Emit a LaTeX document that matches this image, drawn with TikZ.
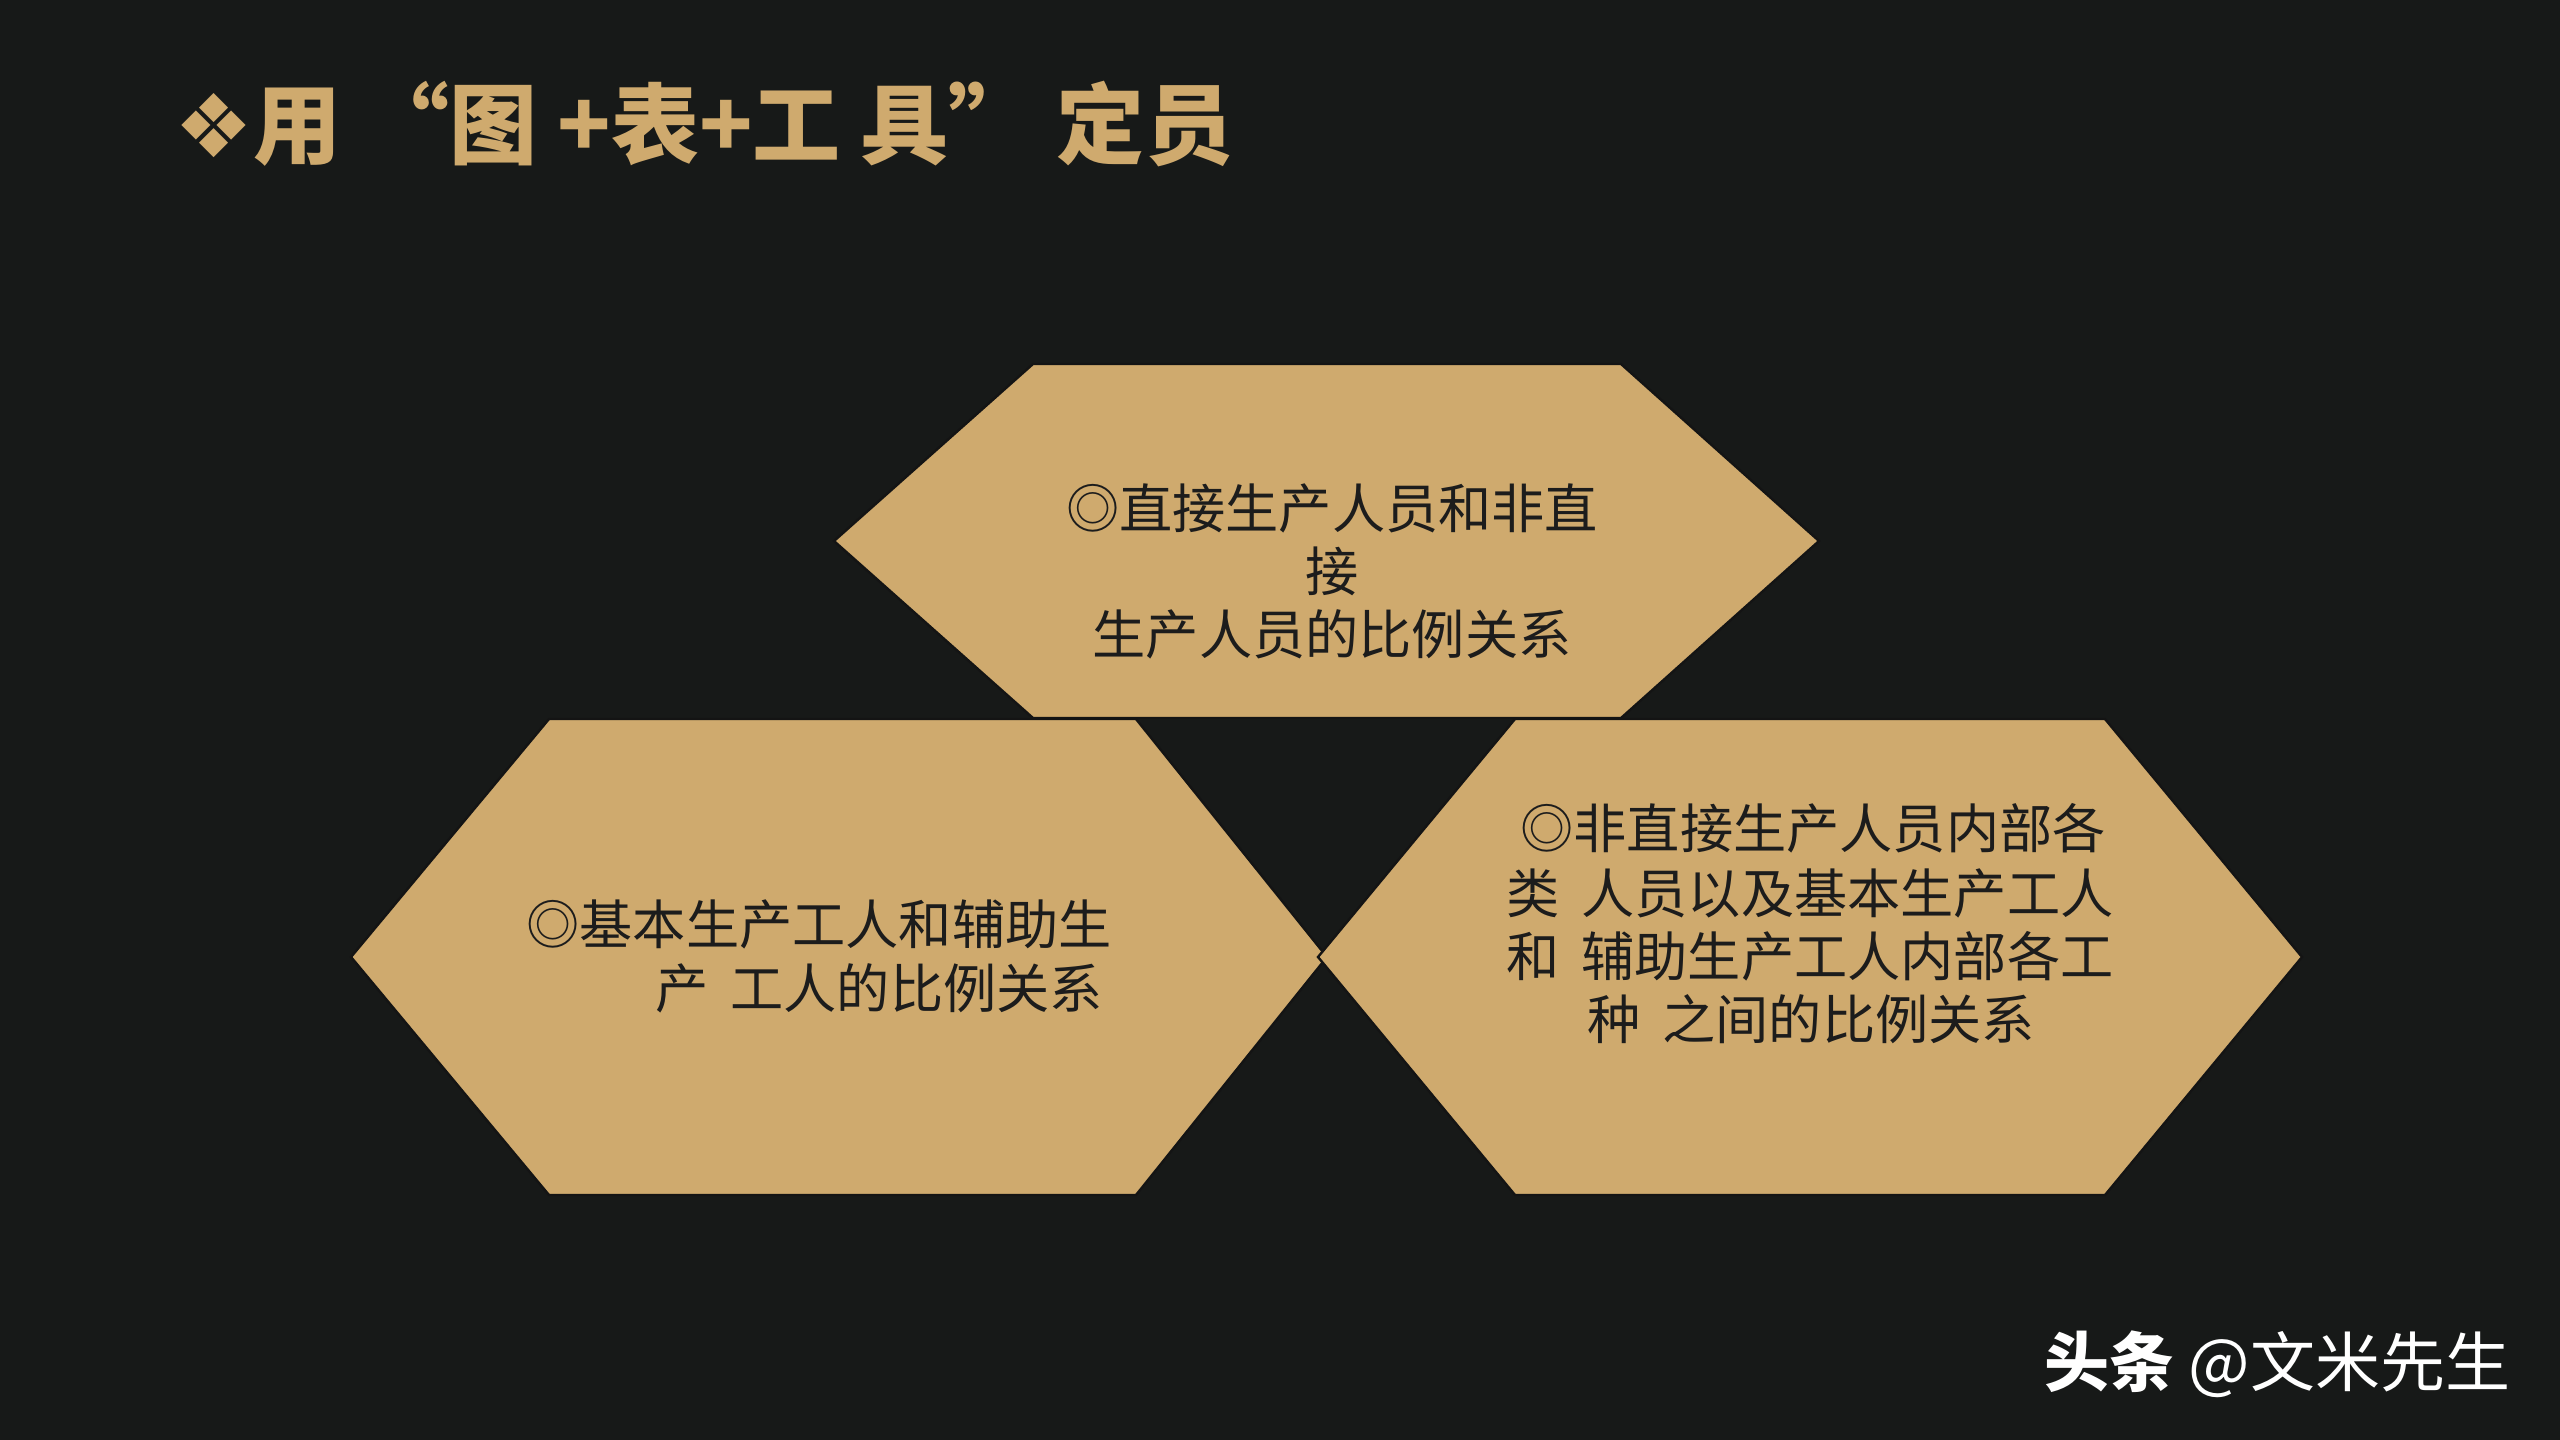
\documentclass[tikz,border=0pt]{standalone}
\usepackage{fontspec}
\newfontfamily\cjk{Noto Sans CJK SC}
\newfontfamily\sym{DejaVu Sans}
\definecolor{bg}{HTML}{171918}
\definecolor{gold}{HTML}{CFAA6E}
\definecolor{ink}{HTML}{1C1C1C}
\tikzset{
  hexa/.style={fill=gold, draw=black!92, line width=1.2pt, line join=miter},
  body/.style={font=\cjk\fontsize{26.6pt}{30pt}\selectfont, text=ink, inner sep=0pt},
}
\begin{document}
\begin{tikzpicture}[x=0.5pt,y=-0.5pt]
\fill[bg] (0,0) rectangle (2560,1440);
\useasboundingbox (0,0) rectangle (2560,1440);
% hexagons
\draw[hexa] (834,541) -- (1033,364) -- (1621,364) -- (1819,541) -- (1621,718) -- (1033,718) -- cycle;
\draw[hexa] (351,957) -- (549,719) -- (1136,719) -- (1327,957) -- (1136,1195) -- (549,1195) -- cycle;
\draw[hexa] (1318,957) -- (1515,719) -- (2105,719) -- (2302,957) -- (2105,1195) -- (1515,1195) -- cycle;
% title
\node[anchor=base west, inner sep=0pt, text=gold, font=\cjk\bfseries\fontsize{44pt}{50pt}\selectfont] (title) at (174,157) {{\sym\mdseries ❖}用 “图 +表+工 具” 定员};
% top text
\node[body, anchor=base] (t1) at (1332,528) {◎直接生产人员和非直};
\node[body, anchor=base] (t2) at (1332,591) {接};
\node[body, anchor=base] (t3) at (1332,654) {生产人员的比例关系};
% left text
\node[body, anchor=base west] (l1) at (526,944) {◎基本生产工人和辅助生};
\node[body, anchor=base west] (l2) at (655,1008) {产\hspace{11pt}工人的比例关系};
% right text
\node[body, anchor=base west] (r1) at (1520,848) {◎非直接生产人员内部各};
\node[body, anchor=base west] (r2) at (1506,913) {类\hspace{11pt}人员以及基本生产工人};
\node[body, anchor=base west] (r3) at (1506,976) {和\hspace{11pt}辅助生产工人内部各工};
\node[body, anchor=base west] (r4) at (1587,1039) {种\hspace{11pt}之间的比例关系};
% watermark
\node[anchor=base west, inner sep=0pt, text=white, font=\cjk\fontsize{32.5pt}{36pt}\selectfont] (wm) at (2044,1386) {{\bfseries 头条} @文米先生};
\end{tikzpicture}
\end{document}
